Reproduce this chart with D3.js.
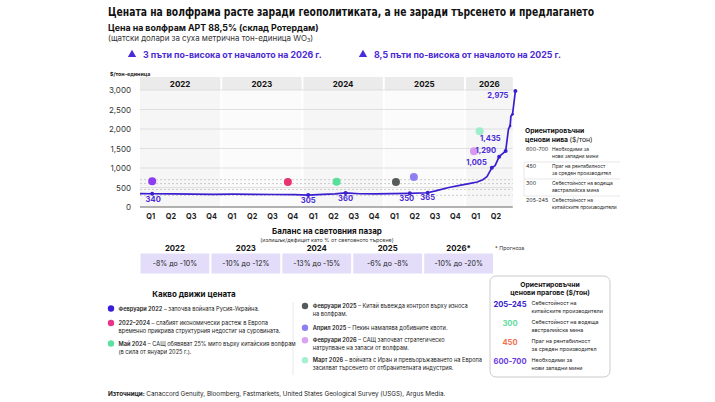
<!DOCTYPE html>
<html>
<head>
<meta charset="utf-8">
<script src="https://cdn.jsdelivr.net/npm/d3@7"></script>
<style>
  body { margin: 0; background: #fff; }
  svg { display: block; font-family: Inter, "Noto Sans", sans-serif; }
</style>
</head>
<body>
<div id="chart"></div>
<script>
// ---- data ----
const years = ["2022", "2023", "2024", "2025", "2026"];
const yearEnd = 2026.6;                 // where the 2026 column stops
const quarterNames = ["Q1", "Q2", "Q3", "Q4"];
const quartersShown = [4, 4, 4, 4, 2];
const yTicks = [0, 500, 1000, 1500, 2000, 2500, 3000];

// APT price, $/mtu, by decimal year
const priceDates = [2022.00, 2022.15, 2022.40, 2022.65, 2022.90, 2023.15, 2023.40, 2023.65, 2023.90,
  2024.07, 2024.25, 2024.40, 2024.53, 2024.70, 2024.90, 2025.10, 2025.32, 2025.54, 2025.65, 2025.80,
  2025.95, 2026.00, 2026.05, 2026.15, 2026.22, 2026.27, 2026.33, 2026.37, 2026.42, 2026.47, 2026.50,
  2026.535, 2026.555, 2026.565, 2026.585, 2026.62];
const priceValues = [345, 340, 335, 330, 325, 330, 325, 320, 315,
  305, 325, 335, 360, 340, 335, 345, 350, 365, 420, 500,
  560, 580, 600, 640, 700, 780, 1005, 1060, 1290, 1380, 1435,
  2000, 2080, 2330, 2380, 2975];

const labelDates = [2022.15, 2024.07, 2024.53, 2025.32, 2025.54, 2026.33, 2026.42, 2026.50, 2026.62];
const labelValues = [340, 305, 360, 350, 365, 1005, 1290, 1435, 2975];
const smallMarkDates = [2026.555, 2026.585];
const smallMarkValues = [2080, 2380];

const eventDates = [2022.15, 2023.82, 2024.42, 2025.15, 2025.37, 2026.11, 2026.18];
const eventValues = [660, 640, 650, 640, 770, 1430, 1940];
const eventHeads = ["Февруари 2022", "2022–2024", "Май 2024", "Февруари 2025", "Април 2025", "Февруари 2026", "Март 2026"];
const eventLines = [
  [" – започва войната Русия-Украйна."],
  [" – слабият икономически растеж в Европа", "временно прикрива структурния недостиг на суровината."],
  [" – САЩ обявяват 25% мито върху китайския волфрам", "(в сила от януари 2025 г.)."],
  [" – Китай въвежда контрол върху износа", "на волфрам."],
  [" – Пекин намалява добивните квоти."],
  [" – САЩ започват стратегическо", "натрупване на запаси от волфрам."],
  [" – войната с Иран и превъоръжаването на Европа", "засилват търсенето от отбранителната индустрия."]
];

const refLevels = [700, 600, 450, 300];
const levelRanges = ["600-700", "450", "300", "205-245"];
const levelDescs = [
  ["Необходими за", "нови западни мини"],
  ["Праг на рентабилност", "за среден производител"],
  ["Себестойност на водеща", "австралийска мина"],
  ["Себестойност на", "китайските производители"]
];

const balanceYears = ["2022", "2023", "2024", "2025", "2026*"];
const balanceValues = ["-8% до -10%", "-10% до -12%", "-13% до -15%", "-6% до -8%", "-10% до -20%"];

const thresholdValues = ["205–245", "300", "450", "600-700"];
const thresholdDescs = [
  ["Себестойност на", "китайските производители"],
  ["Себестойност на водеща", "австралийска мина"],
  ["Праг на рентабилност", "за среден производител"],
  ["Необходими за", "нови западни мини"]
];

// ---- styles ----
const purple = "#4b2bd6";
const lineColor = "#3a1fcf";
const eventColors = ["#8d3cf0", "#e8336f", "#58e09a", "#555b5b", "#8f80f2", "#d69bf0", "#9eeecb"];
const legendColors = ["#3a1fd8", "#e8338a", "#5ce0a0", "#555b5b", "#8b80f0", "#d9a2f3", "#a6efd2"];
const thresholdColors = ["#3a22d0", "#5fdca0", "#f07050", "#6a3be0"];
const labelOffsets = [[1, 8, "middle"], [0, 8, "middle"], [0, 8, "middle"], [-3, 8, "middle"], [0, 7, "middle"],
  [-5, -3, "end"], [-3, -4, "end"], [-5, -10, "end"], [-7, 7, "end"]];

const W = 715, H = 402;
const svg = d3.select("#chart").append("svg").attr("width", W).attr("height", H);

const x = d3.scaleLinear().domain([2022, 2026.62]).range([140, 515.4]);
const y = d3.scaleLinear().domain([0, 3000]).range([207, 90]);
const plotTop = 77, headTop = 77, headBottom = 90;

// ---- titles ----
svg.append("text").attr("x", 108).attr("y", 16)
  .attr("font-family", "'DejaVu Sans Condensed', Roboto, sans-serif")
  .attr("font-weight", 700).attr("font-size", 12.8).attr("fill", "#111")
  .attr("textLength", 486).attr("lengthAdjust", "spacingAndGlyphs")
  .text("Цената на волфрама расте заради геополитиката, а не заради търсенето и предлагането");

svg.append("text").attr("x", 108).attr("y", 31).attr("font-weight", 700).attr("font-size", 8.8).attr("fill", "#111")
  .text("Цена на волфрам APT 88,5% (склад Ротердам)");
const sub = svg.append("text").attr("x", 108).attr("y", 40.5).attr("font-size", 7.9).attr("fill", "#333");
sub.append("tspan").text("(щатски долари за суха метрична тон-единица WO");
sub.append("tspan").attr("font-size", 5.4).attr("dy", 1.5).text("3");
sub.append("tspan").attr("dy", -1.5).text(")");

const notes = [[132, "3 пъти по-висока от началото на 2026 г."], [363, "8,5 пъти по-висока от началото на 2025 г."]];
notes.forEach(([nx, s]) => {
  svg.append("path").attr("d", d3.symbol().type(d3.symbolTriangle).size(30)())
    .attr("transform", `translate(${nx},${54.5})`).attr("fill", purple);
  svg.append("text").attr("x", nx + 11).attr("y", 57.5).attr("font-weight", 700).attr("font-size", 8.8)
    .attr("fill", purple).text(s);
});

// ---- chart background ----
const yearNums = years.map(Number);
const bounds = yearNums.map((yr, i) => [yr, i < yearNums.length - 1 ? yearNums[i + 1] : yearEnd]);
const cols = svg.append("g");
bounds.forEach(([a, b], i) => {
  const x0 = x(a) + (i > 0 ? 1 : 0), x1 = x(b) - 1;
  cols.append("rect").attr("x", x0).attr("y", plotTop).attr("width", x1 - x0).attr("height", y(0) - plotTop)
    .attr("fill", i % 2 ? "#fbfbfb" : "#f6f6f6");
  cols.append("rect").attr("x", x0).attr("y", headTop).attr("width", x1 - x0).attr("height", headBottom - headTop)
    .attr("fill", "#ebebeb");
  cols.append("text").attr("x", (x0 + x1) / 2).attr("y", 86.5).attr("text-anchor", "middle")
    .attr("font-weight", 700).attr("font-size", 8).attr("fill", "#111").text(years[i]);
});

svg.append("g").selectAll("line").data(yTicks.filter(d => d > 0)).join("line")
  .attr("x1", 140).attr("x2", x(yearEnd) - 1).attr("y1", d => y(d)).attr("y2", d => y(d))
  .attr("stroke", "#d9d9d9").attr("stroke-width", 0.8);

svg.append("g").selectAll("line").data(refLevels).join("line")
  .attr("x1", 140).attr("x2", x(yearEnd) - 1).attr("y1", d => y(d)).attr("y2", d => y(d))
  .attr("stroke", "#b8b8b8").attr("stroke-width", 0.7).attr("stroke-dasharray", "2,2");

// y axis
const yAxis = svg.append("g").attr("transform", "translate(131,0)")
  .call(d3.axisLeft(y).tickValues(yTicks).tickSize(0).tickPadding(0).tickFormat(d3.format(",")));
yAxis.select(".domain").remove();
yAxis.selectAll("text").attr("font-size", 8).attr("fill", "#333").attr("font-family", "Inter, sans-serif");
svg.append("text").attr("x", 110).attr("y", 75.5).attr("font-size", 5.3).attr("font-weight", 700)
  .attr("fill", "#222").text("$/тон-единица");

// x axis
const qTicks = [];
years.forEach((yr, i) => quarterNames.slice(0, quartersShown[i]).forEach((q, j) =>
  qTicks.push({ t: +yr + (j + 0.5) / 4, label: q })));
const xAxis = svg.append("g").attr("transform", `translate(0,${y(0)})`)
  .call(d3.axisBottom(x).tickValues(qTicks.map(d => d.t)).tickSize(0).tickPadding(7)
    .tickFormat((d, i) => qTicks[i].label));
xAxis.select(".domain").remove();
xAxis.selectAll("text").attr("font-size", 7.3).attr("font-weight", 700).attr("fill", "#222")
  .attr("font-family", "Inter, sans-serif");
svg.append("line").attr("x1", 140).attr("x2", x(yearEnd) - 1).attr("y1", y(0)).attr("y2", y(0))
  .attr("stroke", "#555").attr("stroke-width", 0.9);

// event dots
svg.append("g").selectAll("circle").data(eventDates).join("circle")
  .attr("cx", d => x(d)).attr("cy", (d, i) => y(eventValues[i])).attr("r", 4)
  .attr("fill", (d, i) => eventColors[i]);

// price line
const pts = priceDates.map((d, i) => [d, priceValues[i]]);
svg.append("path").datum(pts)
  .attr("d", d3.line().x(d => x(d[0])).y(d => y(d[1])))
  .attr("fill", "none").attr("stroke", lineColor).attr("stroke-width", 1.7).attr("stroke-linejoin", "round");

svg.append("g").selectAll("circle").data(labelDates).join("circle")
  .attr("cx", d => x(d)).attr("cy", (d, i) => y(labelValues[i])).attr("r", 2).attr("fill", lineColor);
svg.append("g").selectAll("circle").data(smallMarkDates).join("circle")
  .attr("cx", d => x(d)).attr("cy", (d, i) => y(smallMarkValues[i])).attr("r", 1.3).attr("fill", lineColor);

svg.append("g").selectAll("text").data(labelDates).join("text")
  .attr("x", (d, i) => x(d) + labelOffsets[i][0]).attr("y", (d, i) => y(labelValues[i]) + labelOffsets[i][1])
  .attr("text-anchor", (d, i) => labelOffsets[i][2])
  .attr("font-size", 7.6).attr("font-weight", 700).attr("fill", purple)
  .text((d, i) => d3.format(",")(labelValues[i]));

// ---- price levels panel ----
const lv = svg.append("g");
lv.append("text").attr("x", 525).attr("y", 133).attr("font-size", 6.8).attr("font-weight", 700).attr("fill", "#111")
  .text("Ориентировъчни");
const lt = lv.append("text").attr("x", 525).attr("y", 142).attr("font-size", 6.8).attr("fill", "#111");
lt.append("tspan").attr("font-weight", 700).text("ценови нива ");
lt.append("tspan").text("($/тон)");
levelRanges.forEach((r, i) => {
  const ry = 151 + i * 17;
  lv.append("text").attr("x", 526).attr("y", ry).attr("font-size", 5.4).attr("fill", "#333").text(r);
  levelDescs[i].forEach((s, k) => lv.append("text").attr("x", 552).attr("y", ry + k * 7)
    .attr("font-size", 4.9).attr("fill", "#222").text(s));
});
[162, 179, 196].forEach(ly => lv.append("line").attr("x1", 524).attr("x2", 620).attr("y1", ly).attr("y2", ly)
  .attr("stroke", "#dedede").attr("stroke-width", 0.7));
lv.append("line").attr("x1", 524).attr("x2", 524).attr("y1", 162).attr("y2", 196)
  .attr("stroke", "#dedede").attr("stroke-width", 0.7);

// ---- market balance table ----
svg.append("text").attr("x", 327).attr("y", 234).attr("text-anchor", "middle").attr("font-size", 8)
  .attr("font-weight", 700).attr("fill", "#111").text("Баланс на световния пазар");
svg.append("text").attr("x", 327).attr("y", 241.5).attr("text-anchor", "middle").attr("font-size", 5.4)
  .attr("fill", "#333").text("(излишък/дефицит като % от световното търсене)");

const band = d3.scaleBand().domain(balanceYears).range([140.5, 493]).paddingInner(0.03);
const tbl = svg.append("g");
balanceYears.forEach((yr, i) => {
  tbl.append("text").attr("x", band(yr) + band.bandwidth() / 2).attr("y", 251).attr("text-anchor", "middle")
    .attr("font-size", 7.8).attr("font-weight", 700).attr("fill", "#111").text(yr);
  tbl.append("rect").attr("x", band(yr)).attr("y", 253.5).attr("width", band.bandwidth()).attr("height", 20)
    .attr("fill", "#e3ddfa");
  tbl.append("text").attr("x", band(yr) + band.bandwidth() / 2).attr("y", 266).attr("text-anchor", "middle")
    .attr("font-size", 7).attr("fill", "#222").text(balanceValues[i]);
});
svg.append("text").attr("x", 495).attr("y", 250).attr("font-size", 5.4).attr("fill", "#333").text("* Прогноза");

// ---- what moves the price ----
svg.append("text").attr("x", 194).attr("y", 297).attr("text-anchor", "middle").attr("font-size", 8)
  .attr("font-weight", 700).attr("fill", "#111").text("Какво движи цената");
svg.append("line").attr("x1", 293).attr("x2", 293).attr("y1", 302).attr("y2", 375)
  .attr("stroke", "#e2e2e2").attr("stroke-width", 0.8);

const rowYs = [308.5, 323, 343.5, 306, 327.8, 340.2, 360.2];
eventHeads.forEach((h, i) => {
  const left = i < 3;
  const dx = left ? 111 : 305, tx = left ? 118.5 : 312.7;
  svg.append("circle").attr("cx", dx).attr("cy", rowYs[i]).attr("r", 3.2).attr("fill", legendColors[i]);
  eventLines[i].forEach((s, k) => {
    const t = svg.append("text").attr("x", tx).attr("y", rowYs[i] + 2 + k * 8.2).attr("font-size", 5.65)
      .attr("fill", "#222");
    if (k === 0) t.append("tspan").attr("font-weight", 600).text(h);
    t.append("tspan").text(s);
  });
});

// ---- thresholds box ----
const tb = svg.append("g");
tb.append("rect").attr("x", 490).attr("y", 276).attr("width", 120).attr("height", 101).attr("rx", 6)
  .attr("fill", "#fff").attr("stroke", "#bdbdbd").attr("stroke-width", 0.8);
tb.append("text").attr("x", 550).attr("y", 286.5).attr("text-anchor", "middle").attr("font-size", 6.8)
  .attr("font-weight", 700).attr("fill", "#111").text("Ориентировъчни");
tb.append("text").attr("x", 550).attr("y", 294.5).attr("text-anchor", "middle").attr("font-size", 6.8)
  .attr("font-weight", 700).attr("fill", "#111").text("ценови прагове ($/тон)");
thresholdValues.forEach((v, i) => {
  const ry = 304.5 + i * 19.1;
  tb.append("text").attr("x", 510).attr("y", ry + 2.5).attr("text-anchor", "middle").attr("font-size", 7.6)
    .attr("font-weight", 700).attr("fill", thresholdColors[i]).text(v);
  thresholdDescs[i].forEach((s, k) => tb.append("text").attr("x", 531.5).attr("y", ry + 0.5 + k * 8)
    .attr("font-size", 5.4).attr("fill", "#222").text(s));
});

// ---- source ----
const src = svg.append("text").attr("x", 108).attr("y", 396).attr("font-size", 6.3).attr("fill", "#222");
src.append("tspan").attr("font-weight", 700).text("Източници: ");
src.append("tspan").text("Canaccord Genuity, Bloomberg, Fastmarkets, United States Geological Survey (USGS), Argus Media.");
</script>
</body>
</html>
